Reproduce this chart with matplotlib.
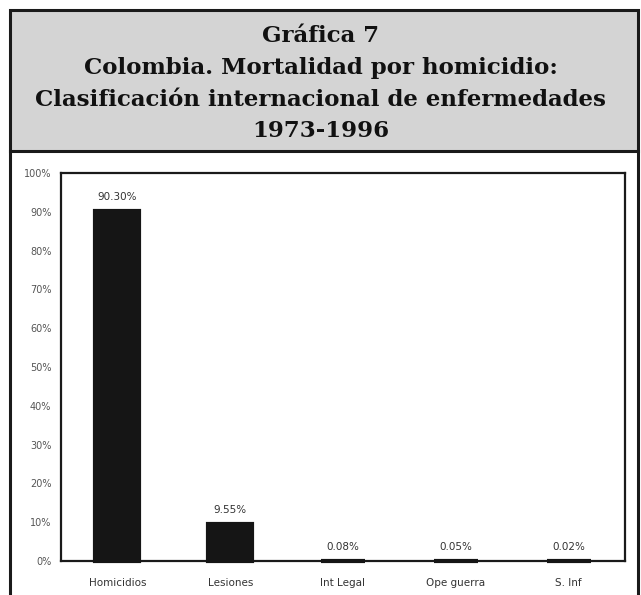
import matplotlib.pyplot as plt
from matplotlib.patches import Rectangle
from matplotlib.lines import Line2D

# Data
categorias = ["Homicidios", "Lesiones", "Int Legal", "Ope guerra", "S. Inf"]
porcentajes = [90.30, 9.55, 0.08, 0.05, 0.02]
etiquetas = ["90.30%", "9.55%", "0.08%", "0.05%", "0.02%"]
yticks = list(range(0, 101, 10))

W, H = 641, 595
fig = plt.figure(figsize=(W / 100, H / 100), dpi=100)
fig.patch.set_facecolor("white")

def fx(px):
    return px / W

def fy(py):
    return 1 - py / H

# Title box (gray) and outer frame
fig.add_artist(Rectangle((fx(10), fy(151)), fx(638) - fx(10), fy(10) - fy(151),
                         transform=fig.transFigure, facecolor="#d4d4d4",
                         edgecolor="#1a1a1a", linewidth=2.2, zorder=0))
fig.add_artist(Line2D([fx(10), fx(10)], [fy(151), 0], transform=fig.transFigure,
                      color="#1a1a1a", linewidth=2.2))
fig.add_artist(Line2D([fx(638), fx(638)], [fy(151), 0], transform=fig.transFigure,
                      color="#1a1a1a", linewidth=2.2))

titulo = ["Gráfica 7",
          "Colombia. Mortalidad por homicidio:",
          "Clasificación internacional de enfermedades",
          "1973-1996"]
ys = [36, 68, 100, 131]
for t, y in zip(titulo, ys):
    fig.text(0.5, fy(y), t, ha="center", va="center", fontsize=16.5,
             fontweight="bold", family="DejaVu Serif", color="#111111")

# Plot area
ax = fig.add_axes([fx(61), fy(561), fx(625) - fx(61), fy(173) - fy(561)])
x = range(len(categorias))
# thick edges so the near-zero bars still show as dark strokes on the axis
ax.bar(x, porcentajes, width=0.39, color="#151515", edgecolor="#151515",
       linewidth=3, zorder=3, clip_on=False)
for xi, v, lab in zip(x, porcentajes, etiquetas):
    ax.text(xi, v + 2.2, lab, ha="center", va="bottom", fontsize=7.5,
            color="#333333")

ax.set_xlim(-0.5, len(categorias) - 0.5)
ax.set_ylim(0, 100)
ax.set_yticks(yticks)
ax.set_yticklabels([f"{t}%" for t in yticks], fontsize=7, color="#555555")
ax.set_xticks(list(x))
ax.set_xticklabels(categorias, fontsize=7.5, color="#333333")
ax.tick_params(axis="both", length=0)
ax.tick_params(axis="y", pad=7)
ax.tick_params(axis="x", pad=12)
for s in ax.spines.values():
    s.set_linewidth(1.6)
    s.set_color("#1a1a1a")

fig.savefig("out.png", dpi=100)
